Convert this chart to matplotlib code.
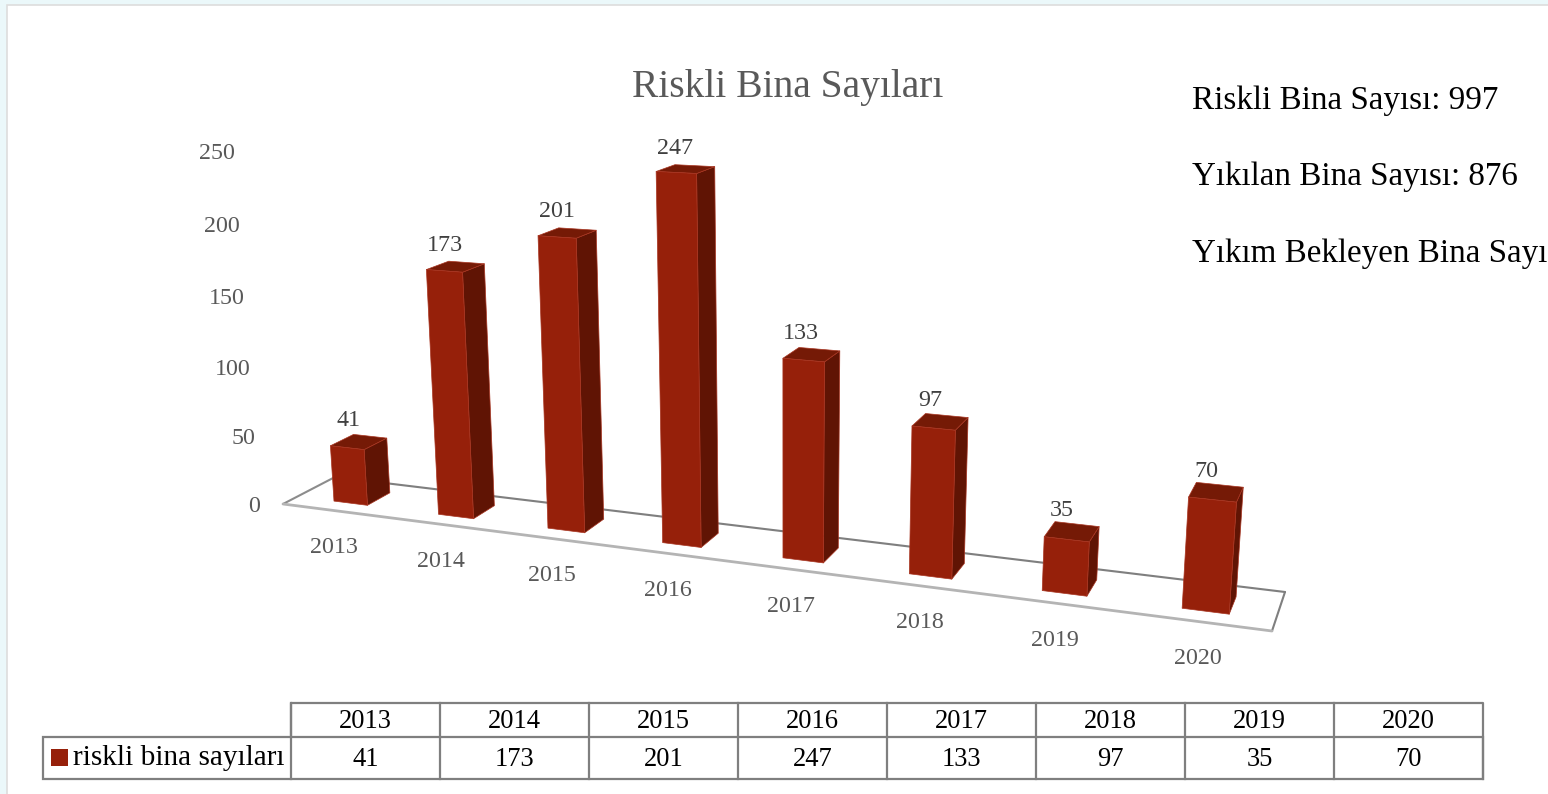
import numpy as np
import matplotlib
matplotlib.use("Agg")
import matplotlib.pyplot as plt
from matplotlib.patches import Polygon, Rectangle

years = ["2013", "2014", "2015", "2016", "2017", "2018", "2019", "2020"]
risky_counts = [41, 173, 201, 247, 133, 97, 35, 70]
y_ticks = [0, 50, 100, 150, 200, 250]
title = "Riskli Bina Sayıları"
series_name = "riskli bina sayıları"
side_notes = ["Riskli Bina Sayısı: 997", "Yıkılan Bina Sayısı: 876", "Yıkım Bekleyen Bina Sayısı: 121"]

FONT = "Liberation Serif"
C_FRONT = "#96200a"
C_SIDE = "#601404"
C_TOP = "#751a06"
C_EDGE = "#a83420"
C_GREY = "#595959"
C_LINE = "#7f7f7f"
PX = 0.72  # font px -> pt at dpi 100

# floor corners in pixels: (u, v) -> screen; u counts categories, v is depth
floor_src = [(0, 0), (len(years), 0), (len(years), 1), (0, 1)]
floor_dst = [(283, 504), (1272, 631), (1285, 592), (335, 477)]
VANISH = (785, 7500)
K = -0.000192


def floor_matrix(src, dst):
    a, b = [], []
    for (u, v), (x, y) in zip(src, dst):
        a.append([u, v, 1, 0, 0, 0, -u * x, -v * x])
        a.append([0, 0, 0, u, v, 1, -u * y, -v * y])
        b += [x, y]
    h = np.linalg.solve(np.array(a, float), np.array(b, float))
    return np.append(h, 1).reshape(3, 3)


H = floor_matrix(floor_src, floor_dst)


def project(u, v, z=0):
    p = H @ np.array([u, v, 1.0]) + z * K * np.array([VANISH[0], VANISH[1], 1.0])
    return p[0] / p[2], p[1] / p[2]


fig = plt.figure(figsize=(15.48, 7.94), dpi=100, facecolor="#ebf8fa")
ax = fig.add_axes([0, 0, 1, 1])
ax.set_xlim(0, 1548)
ax.set_ylim(794, 0)
ax.axis("off")

ax.add_patch(Rectangle((7, 5), 1560, 800, fc="white", ec="#dddddd", lw=1.2, zorder=0))

# floor
corners = [project(*c) for c in floor_src]
for a, b, col, lw in [(2, 3, C_LINE, 1.5), (3, 0, "#8c8c8c", 1.5), (1, 2, C_LINE, 1.5), (0, 1, "#b4b4b4", 2.0)]:
    ax.plot([corners[a][0], corners[b][0]], [corners[a][1], corners[b][1]], color=col, lw=lw,
            solid_capstyle="round", zorder=1)

# bars
for i, val in enumerate(risky_counts):
    u0, u1 = i + 0.36, i + 0.685
    v0, v1 = 0.27, 0.72
    fb = [project(u0, v0), project(u1, v0)]
    ft = [project(u0, v0, val), project(u1, v0, val)]
    bb = project(u1, v1)
    bt = [project(u0, v1, val), project(u1, v1, val)]
    faces = [([fb[1], bb, bt[1], ft[1]], C_SIDE),
             ([ft[0], ft[1], bt[1], bt[0]], C_TOP),
             ([fb[0], fb[1], ft[1], ft[0]], C_FRONT)]
    for pts, col in faces:
        ax.add_patch(Polygon(pts, closed=True, fc=col, ec=C_EDGE, lw=0.5, joinstyle="round", zorder=2))
    cx = (ft[0][0] + bt[1][0]) / 2
    cy = (ft[0][1] + bt[1][1]) / 2
    ax.text(cx - 10, cy - 21, str(val), ha="center", va="center", fontsize=24 * PX, family=FONT,
            color="#404040", zorder=3)
    lx, ly = project(i + 0.5, 0)
    ax.text(lx, ly + 37, years[i], ha="center", va="center", fontsize=24 * PX, family=FONT,
            color=C_GREY, zorder=3)

for t in y_ticks:
    x, y = project(0, 0, t)
    ax.text(x - 23, y + 2, str(t), ha="right", va="center", fontsize=24 * PX, family=FONT, color=C_GREY)

ax.text(788, 87, title, ha="center", va="center", fontsize=39.5 * PX, family=FONT, color=C_GREY)

for note, y in zip(side_notes, [101, 177, 254]):
    ax.text(1192, y, note, ha="left", va="center", fontsize=33.2 * PX, family=FONT, color="black", clip_on=True)

# data table
x_left, x_head, x_right = 43, 291, 1483
y_top, y_mid, y_bot = 703, 737, 779
col_w = (x_right - x_head) / len(years)
ax.plot([x_head, x_head, x_right, x_right], [y_mid, y_top, y_top, y_bot], color=C_LINE, lw=1.6, zorder=4)
ax.add_patch(Rectangle((x_left, y_mid), x_right - x_left, y_bot - y_mid, fc="none", ec=C_LINE, lw=1.6, zorder=4))
for i, (year, val) in enumerate(zip(years, risky_counts)):
    xc = x_head + col_w * (i + 0.5)
    ax.plot([x_head + col_w * i] * 2, [y_top, y_bot], color=C_LINE, lw=1.6, zorder=4)
    ax.text(xc, (y_top + y_mid) / 2 + 1, year, ha="center", va="center", fontsize=26.5 * PX, family=FONT, color="black")
    ax.text(xc, (y_mid + y_bot) / 2 + 1, str(val), ha="center", va="center", fontsize=26.5 * PX, family=FONT, color="black")
ax.add_patch(Rectangle((51, 749), 17, 17, fc=C_FRONT, ec="none", zorder=4))
ax.text(73, 758, series_name, ha="left", va="center", fontsize=29.2 * PX, family=FONT, color="black")

fig.savefig("out.png", dpi=100, facecolor=fig.get_facecolor())
plt.close(fig)
